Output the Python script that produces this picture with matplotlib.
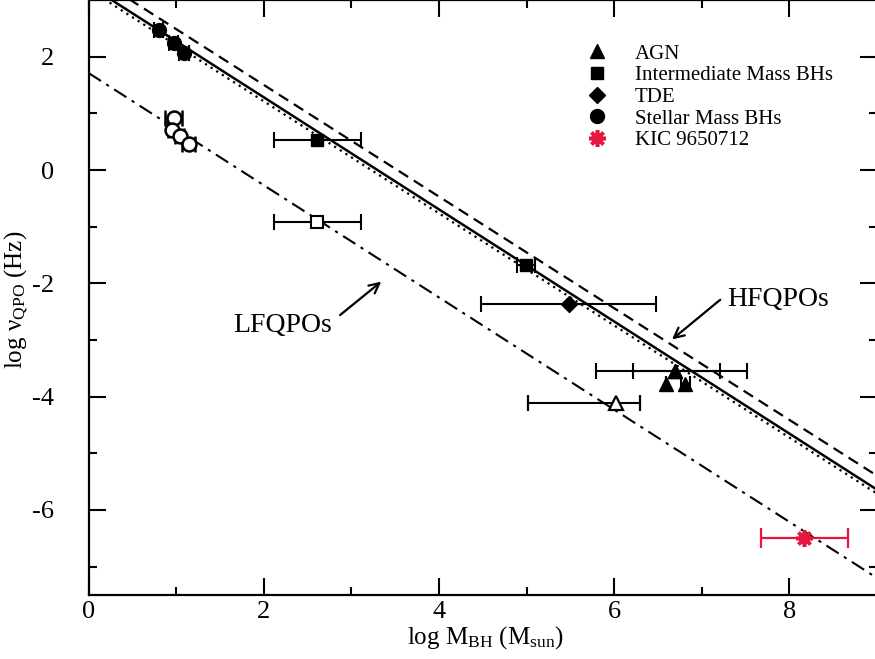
"""QPO frequency vs black-hole mass, with HFQPO / LFQPO scaling lines."""

import numpy as np
import matplotlib
matplotlib.use("Agg")
import matplotlib.pyplot as plt  # noqa: E402
from matplotlib.lines import Line2D  # noqa: E402

plt.rcParams["font.family"] = ["Liberation Serif", "DejaVu Serif"]
plt.rcParams["mathtext.fontset"] = "custom"
plt.rcParams["mathtext.rm"] = "Liberation Serif"
plt.rcParams["mathtext.it"] = "Liberation Serif:italic"
plt.rcParams["axes.unicode_minus"] = False

# --- data (log M_BH, log nu, x-error low, x-error high) ---
stellar_hf_x = [0.80, 0.97, 1.09]
stellar_hf_y = [2.47, 2.25, 2.07]
stellar_hf_xe = [0.05, 0.05, 0.06]

stellar_lf_x = [0.97, 0.95, 1.04, 1.14]
stellar_lf_y = [0.91, 0.70, 0.60, 0.46]
stellar_lf_xe = [0.10, 0.04, 0.05, 0.07]

imbh_hf_x = [2.61, 4.99]
imbh_hf_y = [0.53, -1.68]
imbh_hf_lo = [0.49, 0.10]
imbh_hf_hi = [0.50, 0.11]

imbh_lf_x = [2.61]
imbh_lf_y = [-0.92]
imbh_lf_lo = [0.49]
imbh_lf_hi = [0.50]

tde_x = [5.48]
tde_y = [-2.37]
tde_xe = [1.0]

agn_hf_x = [6.69, 6.69, 6.59, 6.81]
agn_hf_y = [-3.55, -3.55, -3.78, -3.78]
agn_hf_lo = [0.90, 0.48, 0.0, 0.05]
agn_hf_hi = [0.52, 0.83, 0.0, 0.05]

agn_lf_x = [6.02]
agn_lf_y = [-4.12]
agn_lf_lo = [1.01]
agn_lf_hi = [0.27]

kic_x = [8.17]
kic_y = [-6.49]
kic_xe = [0.50]

# scaling lines: log nu = intercept + slope * log M
line_names = ["dashed", "solid", "dotted", "dashdot"]
line_intercepts = [3.47, 3.26, 3.19, 1.71]
line_slopes = [-0.985, -0.989, -0.989, -0.99]

legend_labels = ["AGN", "Intermediate Mass BHs", "TDE", "Stellar Mass BHs", "KIC 9650712"]

RED = "#e3173f"

fig = plt.figure(figsize=(8.75, 6.59), dpi=100)
ax = fig.add_axes([88.7 / 875, 64 / 659, (877 - 88.7) / 875, 595 / 659])

xs = np.array([0.0, 9.0])
styles = {"dashed": dict(ls=(0, (5, 3)), lw=1.6),
          "solid": dict(ls="-", lw=1.8),
          "dotted": dict(ls=(0, (1, 2)), lw=1.6),
          "dashdot": dict(ls=(0, (7, 3, 1.5, 3)), lw=1.5)}
for name, a, b in zip(line_names, line_intercepts, line_slopes):
    ax.plot(xs, a + b * xs, color="k", **styles[name], zorder=1)

eb = dict(ls="none", ecolor="k", elinewidth=1.5, capsize=6, capthick=1.5, zorder=3)
ax.errorbar(stellar_hf_x, stellar_hf_y, xerr=stellar_hf_xe, fmt="o", ms=10,
            mfc="k", mec="k", **eb)
ax.errorbar(stellar_lf_x, stellar_lf_y, xerr=stellar_lf_xe, fmt="o", ms=10,
            mfc="white", mec="k", mew=1.8, **eb)
ax.errorbar(imbh_hf_x, imbh_hf_y, xerr=[imbh_hf_lo, imbh_hf_hi], fmt="s", ms=8.5,
            mfc="k", mec="k", **eb)
ax.errorbar(imbh_lf_x, imbh_lf_y, xerr=[imbh_lf_lo, imbh_lf_hi], fmt="s", ms=8.5,
            mfc="white", mec="k", mew=1.5, **eb)
ax.errorbar(tde_x, tde_y, xerr=tde_xe, fmt="D", ms=8, mfc="k", mec="k", **eb)
ax.errorbar(agn_hf_x, agn_hf_y, xerr=[agn_hf_lo, agn_hf_hi], fmt="^", ms=10,
            mfc="k", mec="k", **eb)
ax.errorbar(agn_lf_x, agn_lf_y, xerr=[agn_lf_lo, agn_lf_hi], fmt="^", ms=10,
            mfc="white", mec="k", mew=1.6, **eb)
ax.errorbar(kic_x, kic_y, xerr=kic_xe, fmt="none", ecolor=RED, elinewidth=1.6,
            capsize=7, capthick=1.6, zorder=3)
ax.plot(kic_x, kic_y, ls="none", marker=(8, 2, 0), ms=12, mew=2.6, color=RED, zorder=4)

arrow = dict(arrowstyle="->", lw=1.6, color="k", shrinkA=0, shrinkB=0, mutation_scale=18)
ax.text(2.21, -2.75, "LFQPOs", fontsize=20, ha="center", va="center")
ax.annotate("", xy=(3.34, -1.97), xytext=(2.87, -2.56), arrowprops=arrow)
ax.text(7.87, -2.29, "HFQPOs", fontsize=20, ha="center", va="center")
ax.annotate("", xy=(6.66, -2.99), xytext=(7.21, -2.29), arrowprops=arrow)

handles = [
    Line2D([], [], ls="none", marker="^", ms=10, color="k"),
    Line2D([], [], ls="none", marker="s", ms=9, color="k"),
    Line2D([], [], ls="none", marker="D", ms=8, color="k"),
    Line2D([], [], ls="none", marker="o", ms=10, color="k"),
    Line2D([], [], ls="none", marker=(8, 2, 0), ms=12, mew=2.6, color=RED),
]
ax.legend(handles, legend_labels, loc="upper left", frameon=False, fontsize=15,
          bbox_to_anchor=(587 / 875, 1 - 44 / 659), bbox_transform=fig.transFigure,
          handlelength=1.0, handletextpad=1.3, labelspacing=0.1, borderpad=0,
          borderaxespad=0)

ax.set_xlim(0, 9.0)
ax.set_ylim(-7.5, 3.0)
ax.set_xticks([0, 2, 4, 6, 8])
ax.set_xticks([1, 3, 5, 7], minor=True)
ax.set_yticks([-6, -4, -2, 0, 2])
ax.set_yticks([-7, -5, -3, -1, 1], minor=True)
ax.tick_params(which="both", direction="in", top=True, right=True, width=1.5,
               labelsize=19)
ax.tick_params(axis="x", pad=4)
ax.tick_params(axis="y", pad=25)
ax.tick_params(which="major", length=12)
ax.tick_params(which="minor", length=6)
for s in ax.spines.values():
    s.set_linewidth(1.6)

ax.set_xlabel(r"log M$_{\rm BH}$ (M$_{\rm sun}$)", fontsize=18)
ax.set_ylabel(r"log ν$_{\rm QPO}$ (Hz)", fontsize=18)
ax.xaxis.set_label_coords((485 - 88.7) / (877 - 88.7), -(624 - 595) / 595)
ax.yaxis.set_label_coords(-(88.7 - 30) / (877 - 88.7), (595 - 300) / 595)

fig.savefig("out.png", dpi=100)
